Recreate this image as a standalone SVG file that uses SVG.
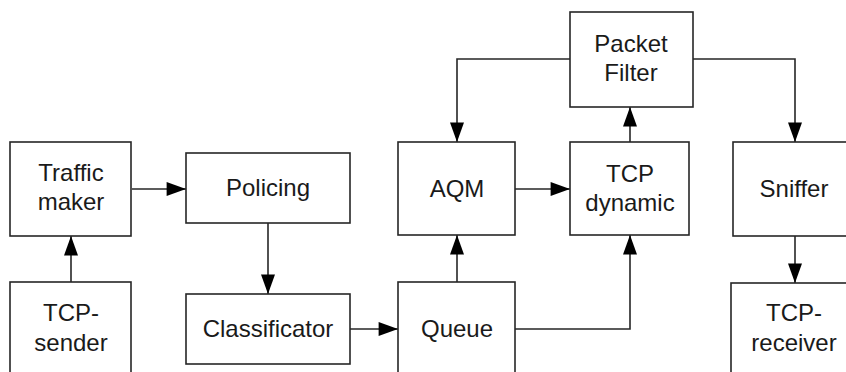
<svg xmlns="http://www.w3.org/2000/svg" width="846" height="372" viewBox="0 0 846 372">
<defs>
<style>
.box{fill:#fff;stroke:#262626;stroke-width:1.6}
.lbl{font-family:"Liberation Sans",Arial,sans-serif;font-size:24px;fill:#1a1a1a;text-anchor:middle}
.con{fill:none;stroke:#262626;stroke-width:1.6}
</style>
<marker id="ah" markerUnits="userSpaceOnUse" markerWidth="20" markerHeight="14" viewBox="0 0 18 13" refX="18" refY="6.5" orient="auto">
<path d="M0,0 L18,6.5 L0,13 Z" fill="#000"/>
</marker>
</defs>
<rect width="846" height="372" fill="#fff"/>
<g id="connectors">
<path class="con" d="M71,282 V236" marker-end="url(#ah)"/>
<path class="con" d="M132,189 H186" marker-end="url(#ah)"/>
<path class="con" d="M268,223 V294" marker-end="url(#ah)"/>
<path class="con" d="M350,329 H398" marker-end="url(#ah)"/>
<path class="con" d="M457,282 V235" marker-end="url(#ah)"/>
<path class="con" d="M515,189 H570" marker-end="url(#ah)"/>
<path class="con" d="M515,329 H630 V235" marker-end="url(#ah)"/>
<path class="con" d="M630,142 V107" marker-end="url(#ah)"/>
<path class="con" d="M570,59 H457 V142" marker-end="url(#ah)"/>
<path class="con" d="M693,59 H795 V142" marker-end="url(#ah)"/>
<path class="con" d="M795,236 V283" marker-end="url(#ah)"/>
</g>
<g id="traffic-maker">
<rect class="box" x="10" y="142" width="121" height="94"/>
<text class="lbl" x="71" y="181">Traffic</text>
<text class="lbl" x="71" y="210">maker</text>
</g>
<g id="tcp-sender">
<rect class="box" x="10" y="282" width="121" height="100"/>
<text class="lbl" x="71" y="321">TCP-</text>
<text class="lbl" x="71" y="351">sender</text>
</g>
<g id="policing">
<rect class="box" x="186" y="153" width="164" height="70"/>
<text class="lbl" x="268" y="196">Policing</text>
</g>
<g id="classificator">
<rect class="box" x="186" y="294" width="164" height="70"/>
<text class="lbl" x="268" y="337">Classificator</text>
</g>
<g id="aqm">
<rect class="box" x="398" y="142" width="117" height="93"/>
<text class="lbl" x="457" y="197">AQM</text>
</g>
<g id="queue">
<rect class="box" x="398" y="282" width="117" height="100"/>
<text class="lbl" x="457" y="337">Queue</text>
</g>
<g id="packet-filter">
<rect class="box" x="570" y="12" width="123" height="95"/>
<text class="lbl" x="631" y="52">Packet</text>
<text class="lbl" x="631" y="81">Filter</text>
</g>
<g id="tcp-dynamic">
<rect class="box" x="570" y="142" width="119" height="93"/>
<text class="lbl" x="630" y="182">TCP</text>
<text class="lbl" x="630" y="211">dynamic</text>
</g>
<g id="sniffer">
<rect class="box" x="733" y="142" width="124" height="94"/>
<text class="lbl" x="794" y="197">Sniffer</text>
</g>
<g id="tcp-receiver">
<rect class="box" x="731" y="283" width="128" height="100"/>
<text class="lbl" x="794" y="321">TCP-</text>
<text class="lbl" x="794" y="351">receiver</text>
</g>
</svg>
